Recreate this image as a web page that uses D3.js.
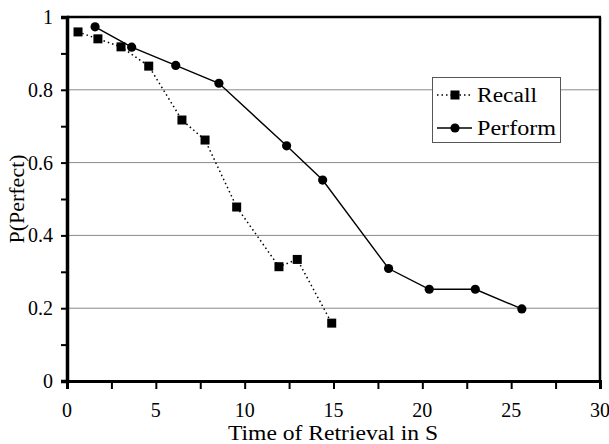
<!DOCTYPE html>
<html><head><meta charset="utf-8">
<script src="https://cdn.jsdelivr.net/npm/d3@7"></script>
</head><body style="margin:0;background:#fff">
<script>
const recallX = [0.62, 1.74, 3.04, 4.6, 6.47, 7.77, 9.55, 11.93, 12.96, 14.9];
const recallY = [0.959, 0.94, 0.918, 0.865, 0.717, 0.662, 0.478, 0.314, 0.334, 0.159];
const performX = [1.58, 3.64, 6.12, 8.55, 12.36, 14.39, 18.1, 20.39, 22.98, 25.6];
const performY = [0.973, 0.917, 0.867, 0.818, 0.646, 0.552, 0.309, 0.252, 0.252, 0.198];
const xTicks = [0, 5, 10, 15, 20, 25, 30];
const yTicks = [0, 0.2, 0.4, 0.6, 0.8, 1];
const yTickLabels = ["0", "0.2", "0.4", "0.6", "0.8", "1"];
const gridValues = [0.2, 0.4, 0.6, 0.8];
const seriesNames = ["Recall", "Perform"];
const xTitle = "Time of Retrieval in S";
const yTitle = "P(Perfect)";

const svg = d3.select("body").append("svg").attr("width", 609).attr("height", 444)
  .style("display", "block");
const L = 67, R = 600, T = 17, B = 381;
const x = d3.scaleLinear().domain([0, 30]).range([L, R]);
const y = d3.scaleLinear().domain([0, 1]).range([B, T]);

function label(sel, size) {
  return sel.style("font-family", '"Liberation Serif"').style("font-size", size + "px").attr("fill", "#000");
}

svg.append("g").selectAll("line").data(gridValues).join("line")
  .attr("x1", L).attr("x2", R).attr("y1", d => y(d)).attr("y2", d => y(d))
  .attr("stroke", "#8a8a8a").attr("stroke-width", 1);

svg.append("line").attr("x1", L).attr("x2", R + 1).attr("y1", T).attr("y2", T).attr("stroke", "#000").attr("stroke-width", 2.5);
svg.append("line").attr("x1", R).attr("x2", R).attr("y1", T).attr("y2", B).attr("stroke", "#000").attr("stroke-width", 2.5);

const gy = svg.append("g").attr("transform", `translate(${L},0)`)
  .call(d3.axisLeft(y).tickValues(d3.range(0, 1.001, 0.1)).tickSize(6).tickFormat(""));
gy.select(".domain").attr("stroke-width", 3.5);
gy.selectAll(".tick line").attr("stroke-width", 2);

const gx = svg.append("g").attr("transform", `translate(0,${B})`)
  .call(d3.axisBottom(x).tickValues(d3.range(0, 30.01, 2.5)).tickSize(8).tickFormat(""));
gx.select(".domain").attr("stroke-width", 3);
gx.selectAll(".tick line").attr("stroke-width", 2);

yTicks.forEach((v, i) => {
  label(svg.append("text"), 20).attr("x", 53).attr("y", y(v) + 7)
    .attr("text-anchor", "end").text(yTickLabels[i]);
});
xTicks.forEach(v => {
  label(svg.append("text"), 20).attr("x", x(v)).attr("y", 417)
    .attr("text-anchor", "middle").text(String(v));
});
label(svg.append("text"), 20).attr("x", 228).attr("y", 440)
  .attr("textLength", 210).attr("lengthAdjust", "spacingAndGlyphs").text(xTitle);
label(svg.append("text"), 22).attr("transform", "translate(24,199) rotate(-90)")
  .attr("text-anchor", "middle").text(yTitle);

const line = d3.line().x(d => x(d[0])).y(d => y(d[1]));
const recall = recallX.map((v, i) => [v, recallY[i]]);
const perform = performX.map((v, i) => [v, performY[i]]);

svg.append("path").datum(recall).attr("d", line).attr("fill", "none")
  .attr("stroke", "#000").attr("stroke-width", 1.5).attr("stroke-dasharray", "1.5,3");
svg.append("path").datum(perform).attr("d", line).attr("fill", "none")
  .attr("stroke", "#000").attr("stroke-width", 1.4);

svg.append("g").selectAll("rect").data(recall).join("rect")
  .attr("x", d => x(d[0]) - 4.5).attr("y", d => y(d[1]) - 4.5)
  .attr("width", 9).attr("height", 9).attr("fill", "#000");
svg.append("g").selectAll("circle").data(perform).join("circle")
  .attr("cx", d => x(d[0])).attr("cy", d => y(d[1])).attr("r", 4.6).attr("fill", "#000");

const lg = svg.append("g");
lg.append("rect").attr("x", 432.5).attr("y", 77.5).attr("width", 128).attr("height", 65)
  .attr("fill", "#fff").attr("stroke", "#555").attr("stroke-width", 1);
const ly = [95, 128];
lg.append("line").attr("x1", 437).attr("x2", 472).attr("y1", ly[0]).attr("y2", ly[0])
  .attr("stroke", "#000").attr("stroke-width", 1.5).attr("stroke-dasharray", "1.5,3");
lg.append("rect").attr("x", 450.5).attr("y", ly[0] - 4.5).attr("width", 9).attr("height", 9).attr("fill", "#000");
lg.append("line").attr("x1", 437).attr("x2", 472).attr("y1", ly[1]).attr("y2", ly[1])
  .attr("stroke", "#000").attr("stroke-width", 1.4);
lg.append("circle").attr("cx", 455).attr("cy", ly[1]).attr("r", 4.6).attr("fill", "#000");
label(lg.append("text"), 20).attr("x", 477).attr("y", ly[0] + 7)
  .attr("textLength", 60).attr("lengthAdjust", "spacingAndGlyphs").text(seriesNames[0]);
label(lg.append("text"), 20).attr("x", 477).attr("y", ly[1] + 7)
  .attr("textLength", 79).attr("lengthAdjust", "spacingAndGlyphs").text(seriesNames[1]);
</script>
</body></html>
